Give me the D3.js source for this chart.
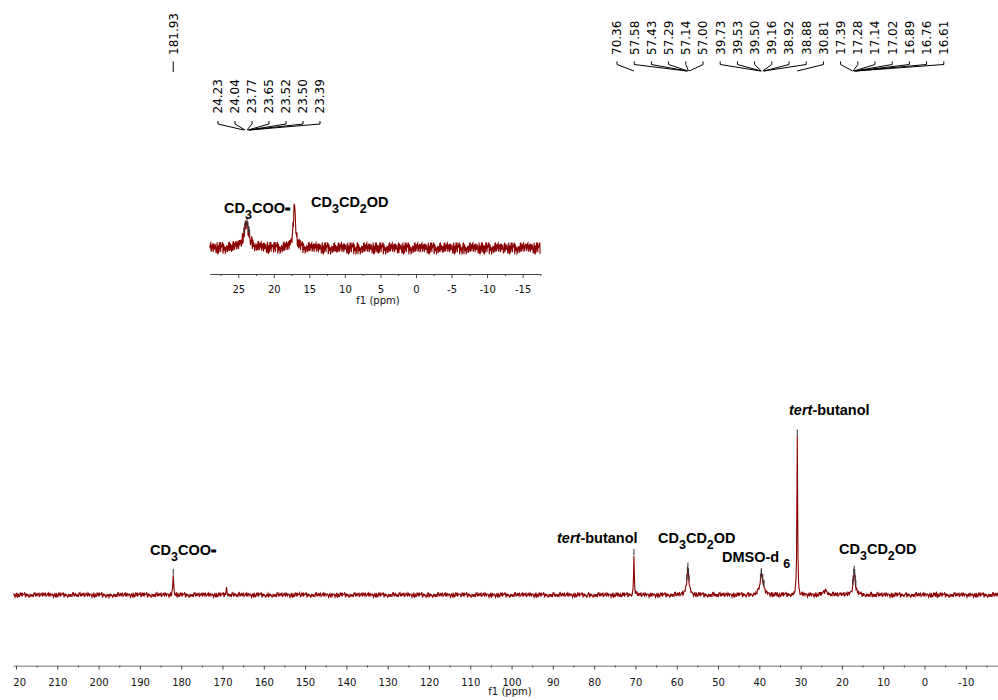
<!DOCTYPE html>
<html><head><meta charset="utf-8">
<script src="https://cdn.jsdelivr.net/npm/d3@7"></script>
<style>body{margin:0;background:#fff}svg{display:block}</style>
</head><body>
<svg id="c" width="998" height="700"></svg>
<script>
// ---------- data ----------
// main 13C spectrum: peak centres (ppm), heights (% of tert-butanol CH3), half-widths (ppm)
const mainPeakPpm    = [181.93, 169.0, 70.36, 57.30, 39.45, 30.81, 30.30, 23.90, 17.02];
const mainPeakHeight = [12,     5,     24.5,  16,    12.5,  100,   -1.2,  3,     14];
const mainPeakWidth  = [0.12,   0.12,  0.10,  0.30,  0.45,  0.10,  0.40,  0.50,  0.30];
// inset spectrum (expanded region)
const insetPeakPpm    = [23.85, 17.10];
const insetPeakHeight = [7.5,   13.5];
const insetPeakWidth  = [0.45,  0.20];
// baseline noise pattern (typed, not random)
const noisePattern = [0.3,-0.6,0.8,-0.2,0.1,-0.9,0.5,0.7,-0.4,0.2,-0.7,0.9,-0.1,0.4,-0.8,0.6,
  -0.3,0.0,0.7,-0.5,0.2,-1.0,0.8,-0.2,0.5,-0.6,0.1,0.9,-0.7,0.3,-0.4,0.6,-0.9,0.2,0.4,-0.3,
  0.8,-0.6,0.0,0.5,-0.8,0.7,-0.1,0.3,-0.5,0.9,-0.2,-0.7,0.6,0.1,-0.4,0.8,-0.9,0.2,0.5,-0.3,
  0.7,-0.6,0.4,-0.1,0.9,-0.8,0.3,0.0];
// peak-picking labels
const singleShiftLabels = ['181.93'];
const mainShiftLabels = ['70.36','57.58','57.43','57.29','57.14','57.00','39.73','39.53','39.50',
  '39.16','38.92','38.88','30.81','17.39','17.28','17.14','17.02','16.89','16.76','16.61'];
const insetShiftLabels = ['24.23','24.04','23.77','23.65','23.52','23.50','23.39'];
// axis ticks
const mainMajorTicks = d3.range(220, -11, -10);
const mainMinorTicks = d3.range(215, -16, -10);
const insetMajorTicks = d3.range(25, -16, -5);
const insetMinorTicks = d3.range(27.5, -18, -5);

// ---------- drawing ----------
const svg = d3.select('#c');
const RED = '#8b0000';
const xMain = d3.scaleLinear().domain([220.73, -17.8]).range([13, 998]);
const yMain = d3.scaleLinear().domain([0, 100]).range([595, 436]);
const xIns = d3.scaleLinear().domain([29.0, -17.5]).range([209.8, 540.4]);
const yIns = d3.scaleLinear().domain([0, 14]).range([248, 205]);

function spec(ppm, P, H, W){
  let s = 0;
  for (let i = 0; i < P.length; i++) s += H[i] / (1 + ((ppm - P[i]) / W[i]) ** 2);
  return s;
}
function trace(xs, P, H, W, step, amp, seed){
  const [x0, x1] = xs.range();
  const px = d3.range(x0, x1 + 0.01, step)
    .concat(P.map(p => xs(p)).filter(v => v >= x0 && v <= x1))
    .sort((a, b) => a - b);
  const n = noisePattern.length;
  return px.map((v, k) => {
    const ppm = xs.invert(v);
    const nz = noisePattern[(k * 29 + seed + Math.floor(k / n) * 7) % n];
    return [ppm, spec(ppm, P, H, W) + amp * nz];
  });
}

const defs = svg.append('defs');
defs.append('clipPath').attr('id','clipMain').append('rect').attr('x',13).attr('y',0).attr('width',985).attr('height',700);

// main spectrum
const mainData = trace(xMain, mainPeakPpm, mainPeakHeight, mainPeakWidth, 0.5, 1.5, 0);
svg.append('path').datum(mainData)
  .attr('fill','none').attr('stroke',RED).attr('stroke-width',1.1)
  .attr('d', d3.line().x(d => xMain(d[0])).y(d => yMain(d[1])));

// inset spectrum
const insData = trace(xIns, insetPeakPpm, insetPeakHeight, insetPeakWidth, 0.33, 2.0, 13);
svg.append('path').datum(insData)
  .attr('fill','none').attr('stroke',RED).attr('stroke-width',1.1)
  .attr('d', d3.line().x(d => xIns(d[0])).y(d => yIns(d[1])));

// peak markers
function markers(labels, xs, ys, P, H, W){
  svg.append('g').selectAll('line').data(labels.map(Number)).join('line')
    .attr('x1', d => xs(d)).attr('x2', d => xs(d))
    .attr('y1', d => ys(spec(d, P, H, W)) - 7)
    .attr('y2', d => ys(spec(d, P, H, W)) - 1)
    .attr('stroke','#333').attr('stroke-width',1);
}
markers(singleShiftLabels.concat(mainShiftLabels), xMain, yMain, mainPeakPpm, mainPeakHeight, mainPeakWidth);
markers(insetShiftLabels, xIns, yIns, insetPeakPpm, insetPeakHeight, insetPeakWidth);

// axes
function axis(xs, y, major, minor, pad){
  const g = svg.append('g').attr('transform',`translate(0,${y})`);
  g.call(d3.axisBottom(xs).tickValues(major).tickSize(4).tickSizeOuter(0).tickPadding(pad).tickFormat(d => String(d)));
  const gm = svg.append('g').attr('transform',`translate(0,${y})`);
  gm.call(d3.axisBottom(xs).tickValues(minor).tickSize(2).tickSizeOuter(0).tickFormat(''));
  gm.select('.domain').remove();
  [g, gm].forEach(s => {
    s.selectAll('line').attr('stroke','#444');
    s.select('.domain').attr('stroke','#444').attr('stroke-width',1.2);
    s.selectAll('text').attr('font-family','"DejaVu Sans", Verdana, sans-serif').attr('font-size',10).attr('fill','#111');
  });
  return g;
}
const gMainAx = axis(xMain, 665.5, mainMajorTicks, mainMinorTicks, 9);
gMainAx.attr('clip-path','url(#clipMain)');
axis(xIns, 274, insetMajorTicks, insetMinorTicks, 8);

svg.append('text').attr('x',510).attr('y',695).attr('text-anchor','middle')
  .attr('font-family','"DejaVu Sans", Verdana, sans-serif').attr('font-size',10).attr('fill','#111').text('f1 (ppm)');
svg.append('text').attr('x',378).attr('y',304).attr('text-anchor','middle')
  .attr('font-family','"DejaVu Sans", Verdana, sans-serif').attr('font-size',10).attr('fill','#111').text('f1 (ppm)');

// shift labels with leader lines
function shiftLabels(labels, xs, x0, step, bottom, stubTop, stubBot, conv){
  const g = svg.append('g');
  labels.forEach((lab, i) => {
    const lx = (x0 === null) ? xs(+lab) : x0 + i * step;
    const xp = xs(+lab);
    g.append('text').attr('transform',`translate(${lx},${bottom}) rotate(-90)`)
      .attr('dy','0.36em').attr('font-family','"DejaVu Sans", Verdana, sans-serif')
      .attr('font-size',12).attr('fill','#000').text(lab);
    g.append('path').attr('d',`M${lx},${stubTop}L${lx},${stubBot}L${xp},${conv}`)
      .attr('fill','none').attr('stroke','#000').attr('stroke-width',1);
  });
}
shiftLabels(singleShiftLabels, xMain, null, 0, 55, 61.5, 64.5, 72);
shiftLabels(mainShiftLabels, xMain, 617, 17.2, 55, 61.5, 64.5, 71);
shiftLabels(insetShiftLabels, xIns, 218, 17, 113.5, 121, 124, 130);

// compound labels
function chem(x, y, parts){
  const t = svg.append('text').attr('x',x).attr('y',y)
    .attr('font-family','"Liberation Sans", Arial, sans-serif').attr('font-weight','bold')
    .attr('font-size',14.5).attr('fill','#000');
  let shift = 0;
  parts.forEach(p => {
    const target = p.sub || 0;
    const ts = t.append('tspan').text(p.t).attr('dy', target - shift);
    shift = target;
    if (p.sub) ts.attr('font-size',12.5);
    if (p.it) ts.attr('font-style','italic');
    if (p.dx) ts.attr('dx', p.dx);
    if (p.minus) ts.attr('font-size',16).attr('stroke','#000').attr('stroke-width',0.8);
  });
}
const acetate = [{t:'CD'},{t:'3',sub:6},{t:'COO'},{t:'-',minus:true}];
const ethanol = [{t:'CD'},{t:'3',sub:6},{t:'CD'},{t:'2',sub:6},{t:'OD'}];
const tbuoh = [{t:'tert',it:true},{t:'-butanol'}];
chem(150, 555, acetate);
chem(557, 543, tbuoh);
chem(658, 543, ethanol);
chem(722, 562, [{t:'DMSO-d'},{t:'6',sub:6,dx:4}]);
chem(789, 415, tbuoh);
chem(839, 554, ethanol);
chem(224, 213, acetate);
chem(311, 207, ethanol);
</script>
</body></html>
